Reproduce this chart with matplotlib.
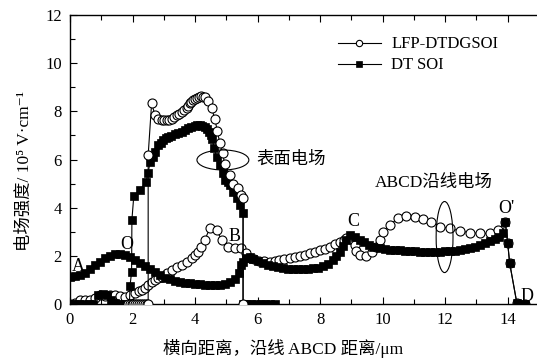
import matplotlib
matplotlib.use('Agg')
import matplotlib.pyplot as plt
from matplotlib.patches import Ellipse
from matplotlib.ticker import MultipleLocator

plt.rcParams['font.family'] = ['Liberation Serif', 'Noto Sans CJK SC', 'DejaVu Sans']
plt.rcParams['font.size'] = 12

# DT SOI, field along the line A-O-B-C-O'-D
dt_line_x = [0.00, 0.16, 0.32, 0.48, 0.64, 0.80, 0.96, 1.12, 1.28, 1.44, 1.60, 1.76,
             1.92, 2.08, 2.24, 2.40, 2.56, 2.72, 2.88, 3.04, 3.20, 3.36, 3.52, 3.68,
             3.84, 4.00, 4.16, 4.32, 4.48, 4.64, 4.80, 4.96, 5.12, 5.28, 5.40, 5.48,
             5.53, 5.64, 5.75, 5.86, 6.00, 6.16, 6.32, 6.48, 6.64, 6.80, 6.96, 7.12,
             7.28, 7.44, 7.60, 7.76, 7.92, 8.08, 8.24, 8.40, 8.52, 8.63, 8.74, 8.84,
             8.95, 9.10, 9.27, 9.40, 9.55, 9.70, 9.90, 10.06, 10.22, 10.38, 10.54,
             10.70, 10.86, 11.02, 11.18, 11.34, 11.50, 11.66, 11.82, 11.98, 12.14,
             12.30, 12.46, 12.62, 12.78, 12.94, 13.10, 13.26, 13.42, 13.58, 13.72,
             13.84, 13.92, 14.00, 14.06, 14.29, 14.54]
dt_line_y = [1.13, 1.15, 1.20, 1.29, 1.45, 1.62, 1.76, 1.90, 1.99, 2.07, 2.08, 2.04,
             1.96, 1.84, 1.70, 1.58, 1.45, 1.32, 1.20, 1.10, 1.02, 0.96, 0.92, 0.89,
             0.86, 0.84, 0.82, 0.80, 0.79, 0.79, 0.80, 0.84, 0.90, 1.03, 1.30, 1.62,
             1.76, 1.92, 1.97, 1.88, 1.80, 1.72, 1.64, 1.58, 1.54, 1.50, 1.47, 1.45,
             1.45, 1.45, 1.46, 1.48, 1.51, 1.56, 1.66, 1.82, 1.98, 2.17, 2.42, 2.66,
             2.86, 2.79, 2.66, 2.56, 2.46, 2.38, 2.31, 2.28, 2.26, 2.24, 2.23,
             2.21, 2.20, 2.18, 2.17, 2.17, 2.17, 2.17, 2.17, 2.18, 2.20,
             2.22, 2.24, 2.27, 2.31, 2.37, 2.45, 2.52, 2.60, 2.70, 2.80,
             2.93, 3.42, 2.52, 1.71, 0.05, 0.00]

# DT SOI, surface field
dt_surf_x = [0.00, 0.15, 0.30, 0.45, 0.60, 0.75, 0.90, 1.05, 1.17, 1.30, 1.45, 1.60,
             1.75, 1.90, 1.92, 1.97, 1.98, 2.04, 2.24, 2.43, 2.50, 2.56,
             2.64, 2.72, 2.82, 2.90, 2.98, 3.06, 3.14, 3.24, 3.35, 3.46, 3.57, 3.68,
             3.78, 3.88, 3.99, 4.07, 4.15, 4.23, 4.31, 4.38, 4.44, 4.50, 4.55, 4.61,
             4.69, 4.79, 4.90, 4.97, 5.04, 5.11, 5.22, 5.33, 5.43, 5.53, 5.53, 5.65,
             5.80, 5.95, 6.10, 6.25, 6.40, 6.55]
dt_surf_y = [0.00, 0.00, 0.00, 0.00, 0.00, 0.02, 0.37, 0.42, 0.37, 0.15, 0.05, 0.02,
             0.02, 0.00, 0.75, 1.34, 3.50, 4.48, 4.73, 5.06, 5.46, 5.88,
             6.10, 6.32, 6.60, 6.70, 6.80, 6.88, 6.94, 6.99, 7.04, 7.10, 7.15, 7.22,
             7.29, 7.35, 7.40, 7.42, 7.43, 7.41, 7.36, 7.27, 7.15, 7.02, 6.87, 6.46,
             6.11, 5.77, 5.42, 5.15, 5.05, 4.94, 4.66, 4.39, 4.10, 3.76, 0.00, 0.00,
             0.00, 0.00, 0.00, 0.00, 0.00, 0.00]

# LFP-DTDGSOI, field along the line A-O-B-C-O'-D
lfp_line_x = [0.00, 0.15, 0.32, 0.48, 0.64, 0.80, 0.96, 1.12, 1.28, 1.44, 1.60, 1.76,
              1.92, 2.08, 2.20, 2.29, 2.40, 2.50, 2.61, 2.72, 2.82, 2.93, 3.09, 3.25,
              3.41, 3.57, 3.73, 3.89, 4.00, 4.10, 4.20, 4.31, 4.47, 4.69, 4.85, 5.06,
              5.27, 5.48, 5.64, 5.75, 5.90, 6.05, 6.20, 6.39, 6.55, 6.70, 6.85, 7.03,
              7.20, 7.35, 7.50, 7.67, 7.82, 7.98, 8.15, 8.31, 8.47, 8.63, 8.75, 8.84,
              8.95, 9.10, 9.16, 9.27, 9.48, 9.65, 9.80, 9.90, 10.01, 10.22, 10.49,
              10.76, 11.02, 11.29, 11.56, 11.82, 12.14, 12.46, 12.78, 13.10, 13.42,
              13.68, 13.92, 14.00, 14.06, 14.29, 14.54]
lfp_line_y = [0.02, 0.05, 0.17, 0.17, 0.17, 0.25, 0.37, 0.35, 0.38, 0.37, 0.33, 0.30,
              0.36, 0.46, 0.52, 0.58, 0.68, 0.79, 0.90, 1.00, 1.07, 1.13, 1.27, 1.41,
              1.52, 1.62, 1.76, 1.90, 2.02, 2.17, 2.38, 2.66, 3.14, 3.07, 2.66, 2.38,
              2.31, 2.31, 2.10, 1.90, 1.85, 1.80, 1.77, 1.76, 1.78, 1.82, 1.86, 1.90,
              1.95, 2.00, 2.05, 2.10, 2.17, 2.24, 2.30, 2.38, 2.48, 2.59, 2.66, 2.72,
              2.70, 2.45, 2.20, 2.03, 2.00, 2.15, 2.38, 2.66, 3.00, 3.28, 3.56,
              3.65, 3.62, 3.51, 3.42, 3.21, 3.14, 3.04, 2.96, 2.93, 2.93,
              3.07, 3.42, 2.52, 1.71, 0.05, 0.00]

# LFP-DTDGSOI, surface field
lfp_surf_x = [1.85, 1.91, 1.97, 2.03, 2.09, 2.15, 2.21, 2.27, 2.33, 2.39, 2.45, 2.50,
              2.50, 2.61, 2.72, 2.82, 2.93, 3.01, 3.09, 3.17, 3.25, 3.33, 3.41, 3.49,
              3.57, 3.65, 3.73, 3.78, 3.83, 3.88, 3.94, 4.00, 4.05, 4.11, 4.18, 4.24,
              4.31, 4.42, 4.53, 4.63, 4.71, 4.79, 4.88, 4.95, 5.11, 5.22, 5.38, 5.48,
              5.54, 5.54]
lfp_surf_y = [0.00, 0.00, 0.00, 0.00, 0.00, 0.00, 0.00, 0.00, 0.00, 0.00, 0.00, 0.00,
              6.18, 8.33, 7.84, 7.70, 7.63, 7.62, 7.63, 7.66, 7.70, 7.77, 7.84, 7.91,
              7.98, 8.05, 8.12, 8.22, 8.33, 8.40, 8.46, 8.52, 8.56, 8.60, 8.62, 8.60,
              8.58, 8.44, 8.12, 7.70, 7.19, 6.69, 6.25, 5.81, 5.35, 5.00, 4.80, 4.52,
              4.39, 0.00]

circle_style = dict(color='black', lw=0.8, marker='o', ms=6.5, mfc='white',
                    mec='black', mew=0.8)
square_style = dict(color='black', lw=0.8, marker='s', ms=5.8, mfc='black',
                    mec='black', mew=0.5)

fig = plt.figure(figsize=(5.37, 3.59), dpi=100)
ax = fig.add_axes([70 / 537, 55 / 359, 469 / 537, 289 / 359])

ax.plot(lfp_line_x, lfp_line_y, zorder=2, label='LFP-DTDGSOI', **circle_style)
ax.plot(dt_line_x, dt_line_y, zorder=3, label='DT SOI', **square_style)
ax.plot(dt_surf_x, dt_surf_y, zorder=4, **square_style)
ax.plot(lfp_surf_x, lfp_surf_y, zorder=5, **circle_style)

ax.set_xlim(0, 15)
ax.set_ylim(0, 12)
ax.xaxis.set_major_locator(MultipleLocator(2))
ax.xaxis.set_minor_locator(MultipleLocator(1))
ax.yaxis.set_major_locator(MultipleLocator(2))
ax.yaxis.set_minor_locator(MultipleLocator(1))
ax.tick_params(which='both', direction='in', top=True, right=False, width=0.8)
ax.tick_params(which='major', length=5, labelsize=12, pad=6)
ax.tick_params(which='minor', length=3.5)
for sp in ax.spines.values():
    sp.set_linewidth(1.0)
ax.spines['right'].set_visible(False)

ax.set_xlabel('横向距离，沿线 ABCD 距离/μm', fontsize=12.5)
ax.xaxis.set_label_coords(0.455, -0.12)
ax.set_ylabel('电场强度/ 10⁵ V·cm⁻¹', fontsize=12.5)
ax.yaxis.set_label_coords(-0.08, 0.46)

# point labels along the line
for s, x, y in [('A', 0.27, 1.55), ('O', 1.81, 2.45), ('B', 5.27, 2.79),
                ('C', 9.05, 3.42), ("O'", 13.95, 3.97), ('D', 14.62, 0.3)]:
    ax.text(x, y, s, ha='center', va='center', fontsize=13, zorder=6)

ax.add_patch(Ellipse((4.89, 5.98), 1.66, 0.83, fill=False, lw=0.8, zorder=6))
ax.text(5.97, 6.0, '表面电场', ha='left', va='center', fontsize=12.5)
ax.add_patch(Ellipse((11.98, 2.78), 0.54, 2.95, fill=False, lw=0.8, zorder=6))
ax.text(9.74, 5.02, 'ABCD沿线电场', ha='left', va='center', fontsize=12.5)

ax.legend(loc='upper left', bbox_to_anchor=(0.553, 0.955), frameon=False,
          handlelength=2.6, handletextpad=0.6, borderpad=0, labelspacing=0.3,
          markerscale=0.7, fontsize=12)

fig.savefig('out.png', dpi=100)
